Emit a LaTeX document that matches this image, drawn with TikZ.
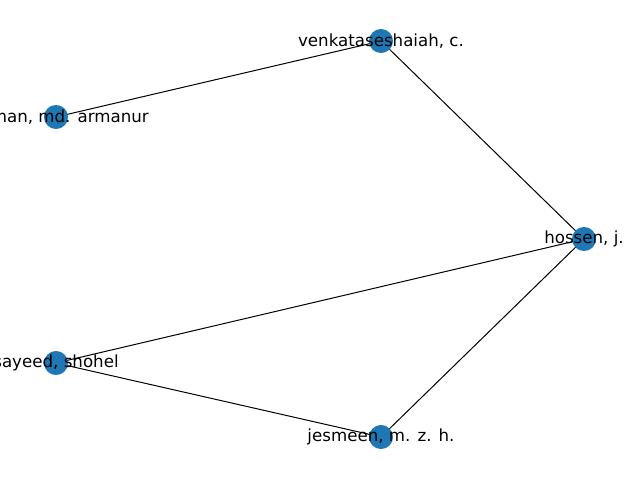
\documentclass[tikz,border=0pt]{standalone}
\usepackage{fontspec}
\setmainfont{DejaVu Sans}
\definecolor{nodeblue}{RGB}{31,119,180}
\begin{document}
\begin{tikzpicture}[x=0.72pt,y=-0.72pt,
  vertex/.style={circle,fill=nodeblue,draw=none,minimum size=17.3pt,inner sep=0pt},
  edge/.style={draw=black,line width=0.72pt},
  lbl/.style={font=\fontsize{12pt}{14pt}\selectfont,text=black,inner sep=0pt,anchor=center}]
  \useasboundingbox (0,0) rectangle (640,480);
  \clip (0,0) rectangle (640,480);
  % vertex positions
  \coordinate (v) at (381,41);
  \coordinate (r) at (56,117);
  \coordinate (h) at (584,239);
  \coordinate (s) at (56,363);
  \coordinate (j) at (381,437);
  % edges
  \draw[edge] (v) -- (r);
  \draw[edge] (v) -- (h);
  \draw[edge] (h) -- (s);
  \draw[edge] (h) -- (j);
  \draw[edge] (s) -- (j);
  % vertices on top of edges
  \node[vertex] (nv) at (v) {};
  \node[vertex] (nr) at (r) {};
  \node[vertex] (nh) at (h) {};
  \node[vertex] (ns) at (s) {};
  \node[vertex] (nj) at (j) {};
  % labels
  \node[lbl] (lv) at (v) {venkataseshaiah, c.};
  \node[lbl] (lr) at (r) {rahman, md. armanur};
  \node[lbl] (lh) at (h) {hossen, j.};
  \node[lbl] (ls) at (s) {sayeed, shohel};
  \node[lbl] (lj) at (j) {jesmeen, m. z. h.};
\end{tikzpicture}
\end{document}
